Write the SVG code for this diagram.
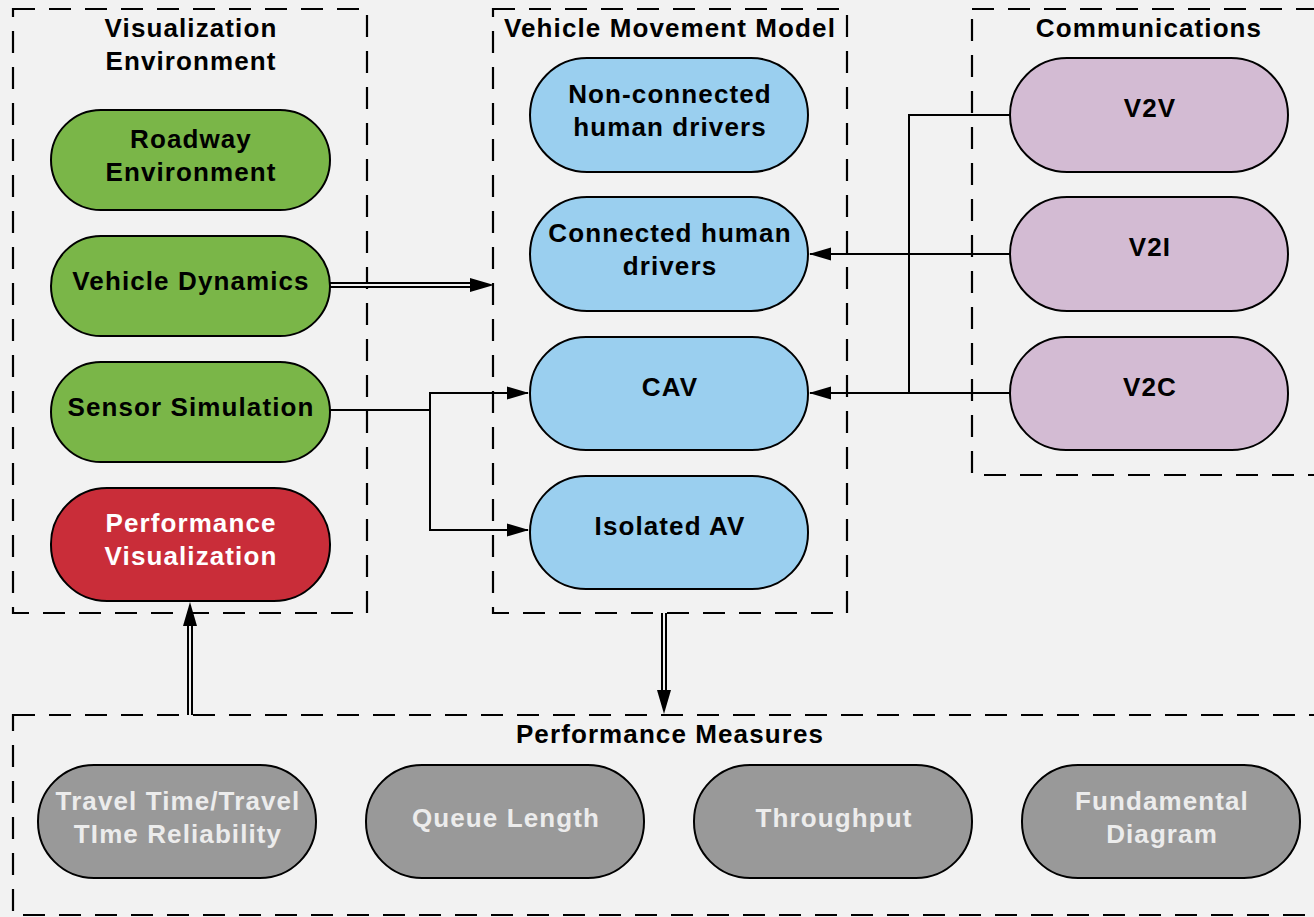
<svg xmlns="http://www.w3.org/2000/svg" width="1314" height="917" viewBox="0 0 1314 917">
  <defs>
    <marker id="arr" markerWidth="22" markerHeight="14" refX="21" refY="7" orient="auto" markerUnits="userSpaceOnUse" viewBox="0 0 22 14">
      <path d="M0,0.5 L22,7 L0,13.5 Z" fill="#000"/>
    </marker>
    <style>
      .frame{fill:none;stroke:#000;stroke-width:2.2;stroke-dasharray:22 14}
      .pill{stroke:#000;stroke-width:2}
      .green{fill:#7ab648}
      .red{fill:#c92d39}
      .blue{fill:#9acfef}
      .purple{fill:#d3bbd3}
      .gray{fill:#999999}
      .t{font-family:"Liberation Sans",Arial,sans-serif;font-weight:bold;font-size:26px;letter-spacing:1.1px;text-anchor:middle;fill:#000}
      .w{fill:#fff}
      .g{fill:#ececec}
      .line{fill:none;stroke:#000;stroke-width:2}
      .dbl{fill:none;stroke:#000;stroke-width:6}
      .gap{fill:none;stroke:#f2f2f2;stroke-width:2}
    </style>
  </defs>
  <rect width="1314" height="917" fill="#f2f2f2"/>

  <!-- container frames -->
  <g id="visualization-environment">
    <rect class="frame" x="13" y="9" width="354" height="604"/>
    <text class="t" x="191" y="37">Visualization</text>
    <text class="t" x="191" y="70">Environment</text>
  </g>
  <g id="vehicle-movement-model">
    <rect class="frame" x="493" y="9" width="354" height="604"/>
    <text class="t" x="670" y="37">Vehicle Movement Model</text>
  </g>
  <g id="communications">
    <rect class="frame" x="972" y="9" width="360" height="466"/>
    <text class="t" x="1149" y="37">Communications</text>
  </g>
  <g id="performance-measures">
    <rect class="frame" x="13" y="715" width="1320" height="200"/>
    <text class="t" x="670" y="743">Performance Measures</text>
  </g>

  <!-- connectors -->
  <g id="connectors">
    <!-- Vehicle Dynamics to movement model (double) -->
    <line class="dbl" x1="330" y1="285" x2="472" y2="285"/>
    <line class="gap" x1="330" y1="285" x2="474" y2="285"/>
    <path d="M470,278 L494,285 L470,292 Z" fill="#000"/>
    <!-- Sensor Simulation to CAV and Isolated AV -->
    <path class="line" d="M330,410 H430 V393 H528" marker-end="url(#arr)"/>
    <path class="line" d="M430,410 V530 H528" marker-end="url(#arr)"/>
    <!-- V2V, V2I, V2C -->
    <path class="line" d="M1010,115 H909 V393"/>
    <path class="line" d="M1010,254 H810" marker-end="url(#arr)"/>
    <path class="line" d="M1010,393 H810" marker-end="url(#arr)"/>
    <!-- Performance measures to visualization (double) -->
    <line class="dbl" x1="190" y1="715" x2="190" y2="624"/>
    <line class="gap" x1="190" y1="716" x2="190" y2="622"/>
    <path d="M183,626 L190,602 L197,626 Z" fill="#000"/>
    <!-- movement model to performance measures (double) -->
    <line class="dbl" x1="664" y1="613" x2="664" y2="692"/>
    <line class="gap" x1="664" y1="612" x2="664" y2="694"/>
    <path d="M657,690 L664,714 L671,690 Z" fill="#000"/>
  </g>

  <!-- visualization nodes -->
  <g id="roadway-environment">
    <rect class="pill green" x="51" y="110" width="279" height="100" rx="50"/>
    <text class="t" x="191" y="148">Roadway</text>
    <text class="t" x="191" y="181">Environment</text>
  </g>
  <g id="vehicle-dynamics">
    <rect class="pill green" x="51" y="236" width="279" height="100" rx="50"/>
    <text class="t" x="191" y="290">Vehicle Dynamics</text>
  </g>
  <g id="sensor-simulation">
    <rect class="pill green" x="51" y="362" width="279" height="100" rx="50"/>
    <text class="t" x="191" y="416">Sensor Simulation</text>
  </g>
  <g id="performance-visualization">
    <rect class="pill red" x="51" y="488" width="279" height="113" rx="56"/>
    <text class="t w" x="191" y="532">Performance</text>
    <text class="t w" x="191" y="565">Visualization</text>
  </g>

  <!-- vehicle movement nodes -->
  <g id="non-connected-human-drivers">
    <rect class="pill blue" x="530" y="58" width="278" height="114" rx="57"/>
    <text class="t" x="670" y="103">Non-connected</text>
    <text class="t" x="670" y="136">human drivers</text>
  </g>
  <g id="connected-human-drivers">
    <rect class="pill blue" x="530" y="197" width="278" height="114" rx="57"/>
    <text class="t" x="670" y="242">Connected human</text>
    <text class="t" x="670" y="275">drivers</text>
  </g>
  <g id="cav">
    <rect class="pill blue" x="530" y="337" width="278" height="113" rx="56"/>
    <text class="t" x="670" y="396">CAV</text>
  </g>
  <g id="isolated-av">
    <rect class="pill blue" x="530" y="476" width="278" height="113" rx="56"/>
    <text class="t" x="670" y="535">Isolated AV</text>
  </g>

  <!-- communication nodes -->
  <g id="v2v">
    <rect class="pill purple" x="1010" y="58" width="278" height="114" rx="57"/>
    <text class="t" x="1150" y="117">V2V</text>
  </g>
  <g id="v2i">
    <rect class="pill purple" x="1010" y="197" width="278" height="114" rx="57"/>
    <text class="t" x="1150" y="256">V2I</text>
  </g>
  <g id="v2c">
    <rect class="pill purple" x="1010" y="337" width="278" height="113" rx="56"/>
    <text class="t" x="1150" y="396">V2C</text>
  </g>

  <!-- performance measure nodes -->
  <g id="travel-time">
    <rect class="pill gray" x="38" y="765" width="278" height="113" rx="56"/>
    <text class="t g" x="178" y="810">Travel Time/Travel</text>
    <text class="t g" x="178" y="843">TIme Reliability</text>
  </g>
  <g id="queue-length">
    <rect class="pill gray" x="366" y="765" width="278" height="113" rx="56"/>
    <text class="t g" x="506" y="827">Queue Length</text>
  </g>
  <g id="throughput">
    <rect class="pill gray" x="694" y="765" width="278" height="113" rx="56"/>
    <text class="t g" x="834" y="827">Throughput</text>
  </g>
  <g id="fundamental-diagram">
    <rect class="pill gray" x="1022" y="765" width="278" height="113" rx="56"/>
    <text class="t g" x="1162" y="810">Fundamental</text>
    <text class="t g" x="1162" y="843">Diagram</text>
  </g>
</svg>
